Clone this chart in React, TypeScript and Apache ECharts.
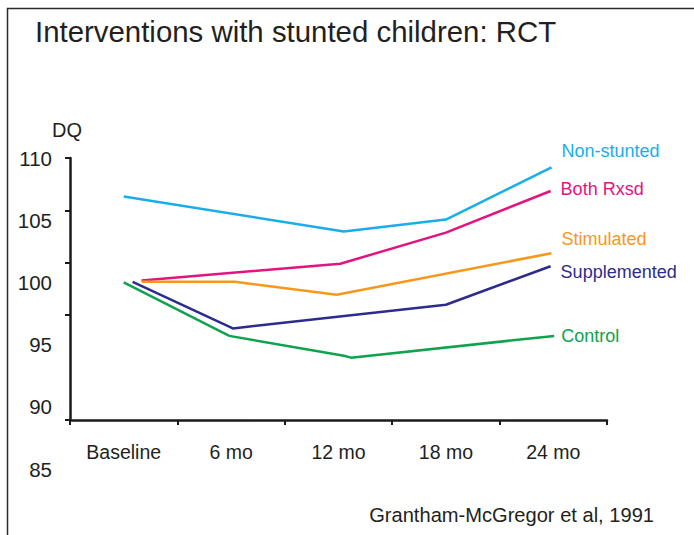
import React, { useEffect, useRef } from "react";
import * as echarts from "echarts";

const titleText = "Interventions with stunted children: RCT";
const yAxisName = "DQ";
const sourceText = "Grantham-McGregor et al, 1991";
const categories = ["Baseline", "6 mo", "12 mo", "18 mo", "24 mo"];

const seriesNames = ["Non-stunted", "Both Rxsd", "Stimulated", "Supplemented", "Control"];
const seriesColors = ["#19AEEA", "#E4137F", "#F7981D", "#2D2C8E", "#10A24C"];

// months since baseline, DQ values
const monthsNonStunted = [0, 12.3, 18, 23.9];
const dqNonStunted = [106.9, 104.1, 105.05, 109.25];
const monthsBoth = [1, 12.1, 18, 23.85];
const dqBoth = [100.15, 101.5, 104.0, 107.35];
const monthsStimulated = [1, 6.2, 11.9, 23.9];
const dqStimulated = [100.05, 100.05, 99.0, 102.35];
const monthsSupplemented = [0.5, 6.1, 18, 23.85];
const dqSupplemented = [100.05, 96.3, 98.2, 101.3];
const monthsControl = [0, 5.9, 12.3, 12.7, 24.05];
const dqControl = [100.0, 95.7, 94.1, 93.95, 95.7];

const allMonths = [monthsNonStunted, monthsBoth, monthsStimulated, monthsSupplemented, monthsControl];
const allDq = [dqNonStunted, dqBoth, dqStimulated, dqSupplemented, dqControl];
const labelOffsets = [[0, -16], [0, -2], [0, -14], [0, 6], [-3, 0]];

const FONT = "'Liberation Sans', Arial, Helvetica, sans-serif";

export default function App() {
  const ref = useRef<HTMLDivElement>(null);
  useEffect(() => {
    if (!ref.current) return;
    const chart = echarts.init(ref.current, undefined, { renderer: "svg" });
    const series = seriesNames.map((name, i) => ({
      name,
      type: "line",
      xAxisIndex: 1,
      yAxisIndex: 1,
      data: allMonths[i].map((m, j) => [m, allDq[i][j]]),
      symbol: "none",
      lineStyle: { color: seriesColors[i], width: 2.5 },
      itemStyle: { color: seriesColors[i] },
      endLabel: {
        show: true,
        formatter: "{a}",
        color: seriesColors[i],
        fontSize: 18,
        fontFamily: FONT,
        distance: 10,
        offset: labelOffsets[i],
      },
      z: 3,
    }));
    chart.setOption({
      animation: false,
      backgroundColor: "#ffffff",
      textStyle: { fontFamily: FONT },
      title: {
        text: titleText,
        left: 35,
        top: 17,
        padding: 0,
        textStyle: { fontSize: 29.4, fontWeight: "normal", color: "#231F20", fontFamily: FONT },
      },
      grid: [
        { left: 70, top: 158, width: 537, height: 262 },
        { left: 70, top: 158, width: 537, height: 311 },
      ],
      xAxis: [
        {
          type: "category",
          gridIndex: 0,
          data: categories,
          boundaryGap: true,
          axisLine: { show: true, lineStyle: { color: "#1a1a1a", width: 2.5 } },
          axisTick: { show: true, length: 5, lineStyle: { color: "#1a1a1a", width: 2 } },
          axisLabel: { fontSize: 19.5, color: "#231F20", margin: 22, fontFamily: FONT },
          splitLine: { show: false },
        },
        { type: "value", gridIndex: 1, min: -3, max: 27, show: false },
      ],
      yAxis: [
        {
          type: "value",
          gridIndex: 0,
          min: 85,
          max: 110,
          interval: 5,
          axisLine: { show: true, lineStyle: { color: "#1a1a1a", width: 2.5 } },
          axisTick: { show: true, length: 5, customValues: [85, 95, 100, 105, 110], lineStyle: { color: "#1a1a1a", width: 2 } },
          axisLabel: { show: false },
          splitLine: { show: false },
        },
        {
          type: "value",
          gridIndex: 1,
          min: 85,
          max: 110,
          interval: 5,
          axisLine: { show: false },
          axisTick: { show: false },
          axisLabel: { show: true, fontSize: 20.5, color: "#231F20", margin: 18, fontFamily: FONT },
          splitLine: { show: false },
        },
      ],
      graphic: [
        {
          type: "rect",
          shape: { x: 7.5, y: 8.5, width: 800, height: 800 },
          style: { fill: "none", stroke: "#2b2b2b", lineWidth: 1.5 },
          silent: true,
        },
        {
          type: "text",
          x: 52,
          y: 130,
          style: { text: yAxisName, fontSize: 20, fill: "#231F20", fontFamily: FONT, textVerticalAlign: "middle" },
        },
        {
          type: "text",
          x: 654,
          y: 515,
          style: { text: sourceText, fontSize: 20.1, fill: "#231F20", fontFamily: FONT, textAlign: "right", textVerticalAlign: "middle" },
        },
      ],
      series,
    });
    return () => chart.dispose();
  }, []);
  return (
    <div
      ref={ref}
      style={{ position: "fixed", left: 0, top: 0, width: 694, height: 535, background: "#fff" }}
    />
  );
}
